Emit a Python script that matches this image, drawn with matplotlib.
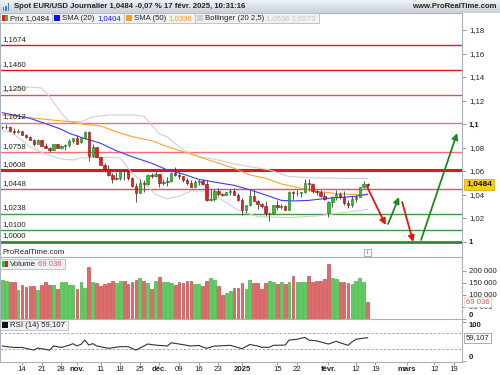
import numpy as np
import pandas as pd
import matplotlib
matplotlib.use('Agg')
from matplotlib import pyplot as plt
from matplotlib.patches import Rectangle
from matplotlib.colors import LinearSegmentedColormap
from matplotlib.transforms import blended_transform_factory

plt.rcParams['font.family'] = ['Liberation Sans', 'DejaVu Sans']

# trading sessions on the time axis (no quotes on christmas and new year)
holidays = ['2024-12-25', '2025-01-01']
sessions = [d for d in pd.bdate_range('2024-10-07', '2025-03-21')
            if d.strftime('%Y-%m-%d') not in holidays]
day_pos = {d.strftime('%Y-%m-%d'): i for i, d in enumerate(sessions)}

# daily EUR/USD candles, 7 oct 2024 -> 17 feb 2025
opens = [1.0973, 1.0974, 1.0978, 1.0940, 1.0935, 1.0937, 1.0910, 1.0890, 1.0862, 1.0833,
         1.0866, 1.0817, 1.0797, 1.0780, 1.0826, 1.0797, 1.0815, 1.0818, 1.0856, 1.0885,
         1.0845, 1.0878, 1.0930, 1.0728, 1.0803, 1.0720, 1.0655, 1.0620, 1.0565, 1.0529,
         1.0540, 1.0598, 1.0596, 1.0543, 1.0472, 1.0417, 1.0495, 1.0488, 1.0566, 1.0556,
         1.0577, 1.0497, 1.0510, 1.0512, 1.0586, 1.0567, 1.0555, 1.0527, 1.0497, 1.0468,
         1.0503, 1.0512, 1.0490, 1.0352, 1.0365, 1.0430, 1.0402, 1.0398, 1.0420, 1.0430,
         1.0400, 1.0350, 1.0267, 1.0307, 1.0388, 1.0345, 1.0320, 1.0300, 1.0244, 1.0245,
         1.0307, 1.0290, 1.0300, 1.0272, 1.0420, 1.0412, 1.0414, 1.0418, 1.0495, 1.0490,
         1.0432, 1.0420, 1.0390, 1.0245, 1.0340, 1.0382, 1.0403, 1.0379, 1.0330, 1.0307,
         1.0362, 1.0382, 1.0465, 1.0493]
highs = [1.0986, 1.0999, 1.0983, 1.0968, 1.0955, 1.0940, 1.0916, 1.0900, 1.0872, 1.0869,
         1.0868, 1.0836, 1.0808, 1.0830, 1.0834, 1.0822, 1.0830, 1.0871, 1.0885, 1.0905,
         1.0890, 1.0937, 1.0937, 1.0826, 1.0805, 1.0722, 1.0668, 1.0653, 1.0580, 1.0594,
         1.0608, 1.0609, 1.0606, 1.0550, 1.0497, 1.0532, 1.0522, 1.0575, 1.0585, 1.0596,
         1.0578, 1.0530, 1.0545, 1.0590, 1.0630, 1.0595, 1.0560, 1.0540, 1.0520, 1.0524,
         1.0535, 1.0530, 1.0520, 1.0445, 1.0445, 1.0455, 1.0410, 1.0425, 1.0445, 1.0458,
         1.0413, 1.0369, 1.0310, 1.0438, 1.0437, 1.0356, 1.0330, 1.0345, 1.0250, 1.0314,
         1.0350, 1.0320, 1.0310, 1.0433, 1.0430, 1.0437, 1.0425, 1.0530, 1.0532, 1.0500,
         1.0438, 1.0440, 1.0425, 1.0345, 1.0390, 1.0441, 1.0425, 1.0426, 1.0355, 1.0383,
         1.0399, 1.0468, 1.0513, 1.0500]
lows = [1.0955, 1.0956, 1.0938, 1.0918, 1.0927, 1.0904, 1.0878, 1.0860, 1.0811, 1.0830,
        1.0812, 1.0793, 1.0761, 1.0778, 1.0794, 1.0788, 1.0775, 1.0806, 1.0836, 1.0835,
        1.0840, 1.0870, 1.0683, 1.0716, 1.0710, 1.0652, 1.0595, 1.0560, 1.0497, 1.0520,
        1.0524, 1.0522, 1.0520, 1.0462, 1.0335, 1.0412, 1.0425, 1.0480, 1.0539, 1.0546,
        1.0460, 1.0480, 1.0470, 1.0505, 1.0555, 1.0530, 1.0510, 1.0485, 1.0468, 1.0460,
        1.0480, 1.0480, 1.0345, 1.0345, 1.0345, 1.0390, 1.0385, 1.0392, 1.0393, 1.0395,
        1.0343, 1.0225, 1.0240, 1.0300, 1.0345, 1.0280, 1.0285, 1.0215, 1.0177, 1.0232,
        1.0265, 1.0280, 1.0266, 1.0268, 1.0355, 1.0386, 1.0375, 1.0410, 1.0434, 1.0410,
        1.0396, 1.0378, 1.0355, 1.0210, 1.0292, 1.0355, 1.0363, 1.0313, 1.0285, 1.0295,
        1.0335, 1.0378, 1.0452, 1.0465]
closes = [1.0975, 1.0978, 1.0940, 1.0935, 1.0937, 1.0910, 1.0890, 1.0862, 1.0833, 1.0866,
          1.0817, 1.0797, 1.0780, 1.0826, 1.0797, 1.0815, 1.0818, 1.0856, 1.0882, 1.0833,
          1.0878, 1.0930, 1.0728, 1.0803, 1.0720, 1.0655, 1.0620, 1.0565, 1.0529, 1.0540,
          1.0598, 1.0596, 1.0543, 1.0472, 1.0417, 1.0495, 1.0488, 1.0566, 1.0556, 1.0577,
          1.0497, 1.0510, 1.0512, 1.0586, 1.0567, 1.0555, 1.0527, 1.0497, 1.0468, 1.0503,
          1.0512, 1.0490, 1.0352, 1.0365, 1.0430, 1.0402, 1.0398, 1.0420, 1.0430, 1.0400,
          1.0350, 1.0267, 1.0307, 1.0388, 1.0345, 1.0320, 1.0300, 1.0244, 1.0245, 1.0307,
          1.0290, 1.0300, 1.0272, 1.0420, 1.0412, 1.0414, 1.0418, 1.0495, 1.0490, 1.0432,
          1.0420, 1.0390, 1.0362, 1.0340, 1.0382, 1.0403, 1.0379, 1.0330, 1.0307, 1.0362,
          1.0382, 1.0465, 1.0493, 1.0484]
prev_close = 1.0974  # close of 4 oct, sets the colour of the first volume bar

volumes = [164000, 160000, 152000, 156000, 122000, 140000, 135000, 136000, 139000, 122000,
           143000, 152000, 140000, 140000, 126000, 152000, 152000, 140000, 140000, 124000,
           152000, 131000, 218000, 156000, 149000, 139000, 147000, 149000, 160000, 149000,
           158000, 160000, 147000, 152000, 164000, 172000, 158000, 150000, 125000, 158000,
           174000, 152000, 152000, 149000, 140000, 152000, 149000, 160000, 160000, 147000,
           147000, 139000, 158000, 172000, 162000, 136000, 98000, 110000, 117000, 131000,
           130000, 148000, 124000, 164000, 149000, 149000, 124000, 149000, 160000, 152000,
           146000, 152000, 146000, 156000, 178000, 152000, 156000, 156000, 181000, 156000,
           160000, 160000, 165000, 229000, 171000, 165000, 156000, 156000, 149000, 147000,
           160000, 171000, 152000, 69036]

# indicators at sample sessions
sma20_dates = ['2024-10-07', '2024-10-16', '2024-10-23', '2024-10-28', '2024-10-30', '2024-11-04',
               '2024-11-11', '2024-11-15', '2024-11-21', '2024-11-28', '2024-12-04', '2024-12-10',
               '2024-12-16', '2024-12-23', '2024-12-30', '2025-01-06', '2025-01-10', '2025-01-16',
               '2025-01-21', '2025-01-27', '2025-01-31', '2025-02-06', '2025-02-12', '2025-02-17']
sma20_vals = [1.1096, 1.1049, 1.0991, 1.0955, 1.0921, 1.0887, 1.0836, 1.0773, 1.0722, 1.0666,
              1.0609, 1.0574, 1.0529, 1.0500, 1.0478, 1.0440, 1.0396, 1.0350, 1.0345, 1.0350,
              1.0365, 1.0375, 1.0385, 1.0404]

sma50_dates = ['2024-10-07', '2024-10-17', '2024-10-30', '2024-11-05', '2024-11-11', '2024-11-15',
               '2024-11-21', '2024-11-28', '2024-12-04', '2024-12-10', '2024-12-16', '2024-12-23',
               '2024-12-30', '2025-01-06', '2025-01-10', '2025-01-16', '2025-01-23', '2025-01-29',
               '2025-02-04', '2025-02-10', '2025-02-17']
sma50_vals = [1.1077, 1.1049, 1.1020, 1.0997, 1.0983, 1.0934, 1.0892, 1.0858, 1.0807, 1.0764,
              1.0722, 1.0666, 1.0623, 1.0566, 1.0538, 1.0490, 1.0453, 1.0428, 1.0412, 1.0402,
              1.0396]

boll_up_dates = ['2024-10-07', '2024-10-16', '2024-10-21', '2024-10-23', '2024-10-28', '2024-10-30',
                 '2024-11-04', '2024-11-07', '2024-11-13', '2024-11-21', '2024-11-26', '2024-12-02',
                 '2024-12-04', '2024-12-10', '2024-12-16', '2024-12-23', '2024-12-30', '2025-01-06',
                 '2025-01-13', '2025-01-20', '2025-01-29', '2025-02-17']
boll_up_vals = [1.1272, 1.1315, 1.1306, 1.1232, 1.1094, 1.1021, 1.1020, 1.1060, 1.1077, 1.1077,
                1.1068, 1.0915, 1.0889, 1.0779, 1.0722, 1.0694, 1.0660, 1.0637, 1.0609, 1.0553,
                1.0540, 1.0536]

boll_lo_dates = ['2024-10-07', '2024-10-09', '2024-10-14', '2024-10-16', '2024-10-22', '2024-10-28',
                 '2024-10-31', '2024-11-04', '2024-11-11', '2024-11-18', '2024-11-21', '2024-11-26',
                 '2024-11-29', '2024-12-04', '2024-12-09', '2024-12-12', '2024-12-18', '2024-12-24',
                 '2024-12-31', '2025-01-08', '2025-01-20', '2025-01-29', '2025-02-06', '2025-02-17']
boll_lo_vals = [1.0940, 1.0932, 1.0864, 1.0804, 1.0745, 1.0702, 1.0694, 1.0711, 1.0719, 1.0711,
                1.0583, 1.0498, 1.0400, 1.0362, 1.0387, 1.0430, 1.0430, 1.0353, 1.0268, 1.0211,
                1.0204, 1.0217, 1.0243, 1.0273]

rsi_dates = ['2024-10-07', '2024-10-08', '2024-10-10', '2024-10-14', '2024-10-17', '2024-10-18',
             '2024-10-23', '2024-10-24', '2024-10-28', '2024-10-30', '2024-10-31', '2024-11-01',
             '2024-11-04', '2024-11-05', '2024-11-06', '2024-11-07', '2024-11-08', '2024-11-13',
             '2024-11-18', '2024-11-20', '2024-11-22', '2024-11-27', '2024-11-29', '2024-12-04',
             '2024-12-05', '2024-12-09', '2024-12-12', '2024-12-16', '2024-12-18', '2024-12-20',
             '2024-12-23', '2024-12-27', '2025-01-02', '2025-01-06', '2025-01-08', '2025-01-09',
             '2025-01-13', '2025-01-14', '2025-01-17', '2025-01-20', '2025-01-22', '2025-01-24',
             '2025-01-27', '2025-01-29', '2025-02-03', '2025-02-05', '2025-02-06', '2025-02-10',
             '2025-02-11', '2025-02-12', '2025-02-14', '2025-02-17']
rsi_vals = [37.7, 36.0, 34.0, 34.0, 27.0, 32.5, 27.0, 37.7, 34.0, 40.0, 43.6, 38.0,
            42.0, 53.0, 40.0, 44.0, 38.0, 31.7, 36.0, 36.0, 27.0, 42.8, 40.0, 37.7,
            46.0, 42.8, 37.7, 39.0, 31.7, 37.7, 37.7, 39.5, 30.7, 41.5, 37.7, 34.4,
            34.4, 39.5, 40.0, 53.0, 55.0, 60.0, 53.0, 51.0, 42.8, 49.8, 46.0, 39.5,
            48.0, 55.0, 58.0, 59.107]

# support / resistance levels drawn on the price panel
resist_levels = [1.1674, 1.1460, 1.1250, 1.1012, 1.0758, 1.0608, 1.0448]
support_levels = [1.0238, 1.0100, 1.0000]

# projected scenario, in sessions counted from 7 oct
scenario_x = [(92.8, 97.6), (98.2, 101.0), (101.8, 104.6), (106.6, 115.8)]
scenario_y = [(1.0470, 1.0140), (1.0149, 1.0379), (1.0336, 0.9996), (1.0013, 1.0923)]

x_tick_dates = ['2024-10-14', '2024-10-21', '2024-10-28', '2024-11-01', '2024-11-11', '2024-11-18',
                '2024-11-25', '2024-12-02', '2024-12-09', '2024-12-16', '2024-12-23', '2025-01-02',
                '2025-01-15', '2025-01-22', '2025-02-03', '2025-02-12', '2025-02-19', '2025-03-03',
                '2025-03-12', '2025-03-19']
x_tick_labels = ['14', '21', '28', 'nov.', '11', '18', '25', 'déc.', '09', '16', '23', '2025',
                 '15', '22', 'févr.', '12', '19', 'mars', '12', '19']
price_ticks = [1.0, 1.02, 1.04, 1.06, 1.08, 1.1, 1.12, 1.14, 1.16, 1.18]
volume_ticks = [0, 50000, 100000, 150000, 200000]

W, H = 500, 375
GRID = '#a9b3bd'
TXT = '#222222'
FS = 5.6


def fx(px):
    return px / W


def fy(py):
    return 1 - py / H


def comma(v, nd):
    return ('{:.%df}' % nd).format(v).replace('.', ',')


def price_label(v):
    s = '{:.2f}'.format(v).rstrip('0').rstrip('.')
    return s.replace('.', ',')


def style_panel(ax):
    for sp in ax.spines.values():
        sp.set_color(GRID)
        sp.set_linewidth(0.8)
    ax.yaxis.tick_right()
    ax.tick_params(axis='y', direction='out', length=3, width=0.6, color='#888888',
                   pad=2, labelsize=FS, labelcolor=TXT)
    ax.tick_params(axis='x', length=0, labelbottom=False)
    ax.set_facecolor('white')


def pix_box(fig, x0, y0, x1, y1, fc='#eff1f3', ec='#b4bcc4'):
    fig.patches.append(Rectangle((fx(x0), fy(y1)), fx(x1 - x0), (y1 - y0) / H,
                                 transform=fig.transFigure, fc=fc, ec=ec, lw=0.6, zorder=5))


def pix_square(fig, x0, y0, w, h, color):
    fig.patches.append(Rectangle((fx(x0), fy(y0 + h)), fx(w), h / H,
                                 transform=fig.transFigure, fc=color, lw=0, zorder=6))


def pix_text(fig, x, y, s, **kw):
    kw.setdefault('fontsize', FS)
    kw.setdefault('color', TXT)
    return fig.text(fx(x), fy(y), s, va='center', ha=kw.pop('ha', 'left'), zorder=6, **kw)


# a row of boxed legend entries: each entry is (icon colours, [(text, colour), ...])
def legend_row(fig, y0, y1, entries):
    r = fig.canvas.get_renderer()
    x0 = 0
    yc = (y0 + y1) / 2 + 0.2
    for icons, pieces in entries:
        w = 6 / len(icons)
        for k, col in enumerate(icons):
            pix_square(fig, x0 + 2 + k * w, yc - 3, w, 6, col)
        x = x0 + 10
        for s, col in pieces:
            t = pix_text(fig, x, yc, s, color=col)
            x += t.get_window_extent(renderer=r).width + 2.2
        x1 = x - 2.2 + 3
        pix_box(fig, x0, y0, x1, y1)
        x0 = x1


def draw_candles(ax, x):
    o, h, l, c = map(np.array, (opens, highs, lows, closes))
    up = c >= o
    ax.vlines(x, l, h, color='#3a3a3a', lw=0.6, zorder=3)
    lo = np.minimum(o, c)
    hgt = np.maximum(np.abs(c - o), 0.00025)
    ax.bar(x, hgt, bottom=lo, width=0.62,
           color=np.where(up, '#2fbf2f', '#e3211c'),
           edgecolor=np.where(up, '#1d6b1d', '#7d1010'), lw=0.4, zorder=4)


def draw_price(ax, x):
    for lv in resist_levels:
        thick = lv == 1.0608
        col = '#e8141a' if lv in (1.1674, 1.1460, 1.0608) else '#ee4b4b'
        if lv in (1.1012, 1.0758):
            col = '#f37070'
        ax.axhline(lv, color=col, lw=2.2 if thick else 1.0, zorder=2)
    for lv in support_levels:
        ax.axhline(lv, color='#2e8b2e' if lv == 1.0 else '#3d9a3d',
                   lw=2.0 if lv == 1.0 else 1.0, zorder=2)
    trans = blended_transform_factory(ax.transAxes, ax.transData)
    for lv in resist_levels + support_levels:
        ax.annotate(comma(lv, 4), xy=(0, lv), xycoords=trans, xytext=(2, 1.5),
                    textcoords='offset points', fontsize=FS, color=TXT, va='bottom',
                    zorder=6)

    def pos(dates):
        return [day_pos[d] for d in dates]

    ax.plot(pos(boll_up_dates), boll_up_vals, color='#cfcfcf', lw=0.8, zorder=2.5)
    ax.plot(pos(boll_lo_dates), boll_lo_vals, color='#cfcfcf', lw=0.8, zorder=2.5)
    ax.plot(pos(sma50_dates), sma50_vals, color='#ffa22e', lw=0.8, zorder=2.6)
    ax.plot(pos(sma20_dates), sma20_vals, color='#3b3bff', lw=0.8, zorder=2.7)

    draw_candles(ax, x)

    for (x0, x1), (y0, y1) in zip(scenario_x, scenario_y):
        col = '#1f8a1f' if y1 > y0 else '#e31414'
        ax.annotate('', xy=(x1, y1), xytext=(x0, y0),
                    arrowprops=dict(arrowstyle='-|>', color=col, lw=1.3,
                                    mutation_scale=9, shrinkA=0, shrinkB=0), zorder=7)

    ax.set_ylim(0.98681, 1.19447)
    ax.set_yticks(price_ticks)
    ax.set_yticklabels([price_label(v) for v in price_ticks])
    for lab, v in zip(ax.get_yticklabels(), price_ticks):
        if round(v, 2) in (1.0, 1.1):
            lab.set_fontweight('bold')
    ax.text(1 + 4 / 462, closes[-1], comma(closes[-1], 4), transform=trans, fontsize=FS + 0.4,
            fontweight='bold', color='#111111', va='center', ha='left', zorder=8,
            bbox=dict(boxstyle='square,pad=0.2', fc='#f6cf16', ec='#c9a200', lw=0.5),
            clip_on=False)


def draw_volume(ax, x):
    c = np.array(closes)
    prev = np.concatenate([[prev_close], c[:-1]])
    up = c >= prev
    ax.bar(x, volumes, width=0.7, color=np.where(up, '#5bd05b', '#e26a6a'),
           edgecolor=np.where(up, '#2d9e2d', '#b83434'), lw=0.4, zorder=3)
    ax.set_ylim(0, 258000)
    ax.set_yticks(volume_ticks)
    ax.set_yticklabels(['0' if v == 0 else '{:,}'.format(v).replace(',', ' ')
                        for v in volume_ticks])
    labs = ax.get_yticklabels()
    labs[0].set_fontweight('bold')
    labs[0].set_verticalalignment('bottom')
    trans = blended_transform_factory(ax.transAxes, ax.transData)
    # last-volume tag, drawn over the 50 000 label as the platform does
    ax.text(1 + 4 / 462, volumes[-1], '{:,}'.format(volumes[-1]).replace(',', ' '),
            transform=trans, fontsize=FS, color='#e05555', va='center', ha='left', zorder=8,
            bbox=dict(boxstyle='square,pad=0.2', fc='white', ec='#f0c4c4', lw=0.5),
            clip_on=False)


def draw_rsi(ax):
    ax.axhline(70, color='#999999', lw=0.6, ls=(0, (3, 2)), zorder=2)
    ax.axhline(30, color='#999999', lw=0.6, ls=(0, (3, 2)), zorder=2)
    ax.plot([day_pos[d] for d in rsi_dates], rsi_vals, color='#333333', lw=0.8, zorder=3)
    ax.set_ylim(-3.6, 107.4)
    ax.set_yticks([0, 100])
    ax.set_yticklabels(['0', '100'], fontweight='bold')
    labs = ax.get_yticklabels()
    labs[0].set_verticalalignment('bottom')
    labs[1].set_verticalalignment('top')
    trans = blended_transform_factory(ax.transAxes, ax.transData)
    ax.text(1 + 4 / 462, rsi_vals[-1], comma(rsi_vals[-1], 3), transform=trans,
            fontsize=FS, color=TXT, va='center', ha='left', zorder=8,
            bbox=dict(boxstyle='square,pad=0.2', fc='white', ec='#8c8c8c', lw=0.5),
            clip_on=False)
    ax.set_xticks([day_pos[d] for d in x_tick_dates])
    ax.set_xticklabels(x_tick_labels)
    ax.tick_params(axis='x', length=2, width=0.6, color='#888888', pad=1,
                   labelsize=FS, labelcolor=TXT, labelbottom=True)
    for lab in ax.get_xticklabels():
        if not lab.get_text().isdigit() or len(lab.get_text()) == 4:
            lab.set_fontweight('bold')


def draw_frame(fig):
    # header strip
    ax_h = fig.add_axes([0, fy(13), 1, 13 / H])
    grad = np.linspace(0, 1, 50).reshape(-1, 1)
    cmap = LinearSegmentedColormap.from_list('hdr', ['#eef2f5', '#c8d2db'])
    ax_h.imshow(grad, aspect='auto', cmap=cmap, extent=[0, 1, 0, 1])
    ax_h.axis('off')
    for i, hh in enumerate([3, 5, 7]):
        pix_square(fig, 3 + i * 2.3, 10.5 - hh, 1.4, hh, '#3f7fd0')
    pix_text(fig, 14, 6.5, 'Spot EUR/USD Journalier 1,0484 -0,07 % 17 févr. 2025, 10:31:16',
             fontweight='bold')
    pix_text(fig, 497, 6.5, 'www.ProRealTime.com', fontweight='bold', ha='right')

    legend_row(fig, 13, 23, [
        (['#e3211c', '#2fbf2f'], [('Prix 1,0484', TXT)]),
        (['#1010ee'], [('SMA (20)', TXT), ('1,0404', '#2020ee')]),
        (['#ff9a1a'], [('SMA (50)', TXT), ('1,0396', '#ff9a1a')]),
        (['#cfcfcf'], [('Bollinger (20 2,5)', TXT), ('1,0536 1,0273', '#c4c4c4')]),
    ])

    pix_text(fig, 2, 253, 'ProRealTime.com')
    pix_box(fig, 364, 249, 371, 256, fc='white', ec='#9aa4ae')
    pix_text(fig, 367.5, 252.5, 'i', fontsize=4.5, ha='center', color='#555555')

    legend_row(fig, 259, 269, [
        (['#2fbf2f', '#e3211c'], [('Volume', TXT), ('69 036', '#e05555')]),
    ])
    legend_row(fig, 320.5, 330, [
        (['#111111'], [('RSI (14) 59,107', TXT)]),
    ])


if __name__ == '__main__':
    fig = plt.figure(figsize=(5, 3.75), dpi=100)
    ax_p = fig.add_axes([0, fy(257), fx(462), (257 - 13) / H])
    ax_v = fig.add_axes([0, fy(319), fx(462), (319 - 257) / H], sharex=ax_p)
    ax_r = fig.add_axes([0, fy(362), fx(462), (362 - 319) / H], sharex=ax_p)
    for ax in (ax_p, ax_v, ax_r):
        style_panel(ax)

    x = np.arange(len(closes))
    draw_price(ax_p, x)
    draw_volume(ax_v, x)
    draw_rsi(ax_r)
    ax_p.set_xlim(-0.61, 117.03)
    draw_frame(fig)

    fig.savefig('out.png', dpi=100)
